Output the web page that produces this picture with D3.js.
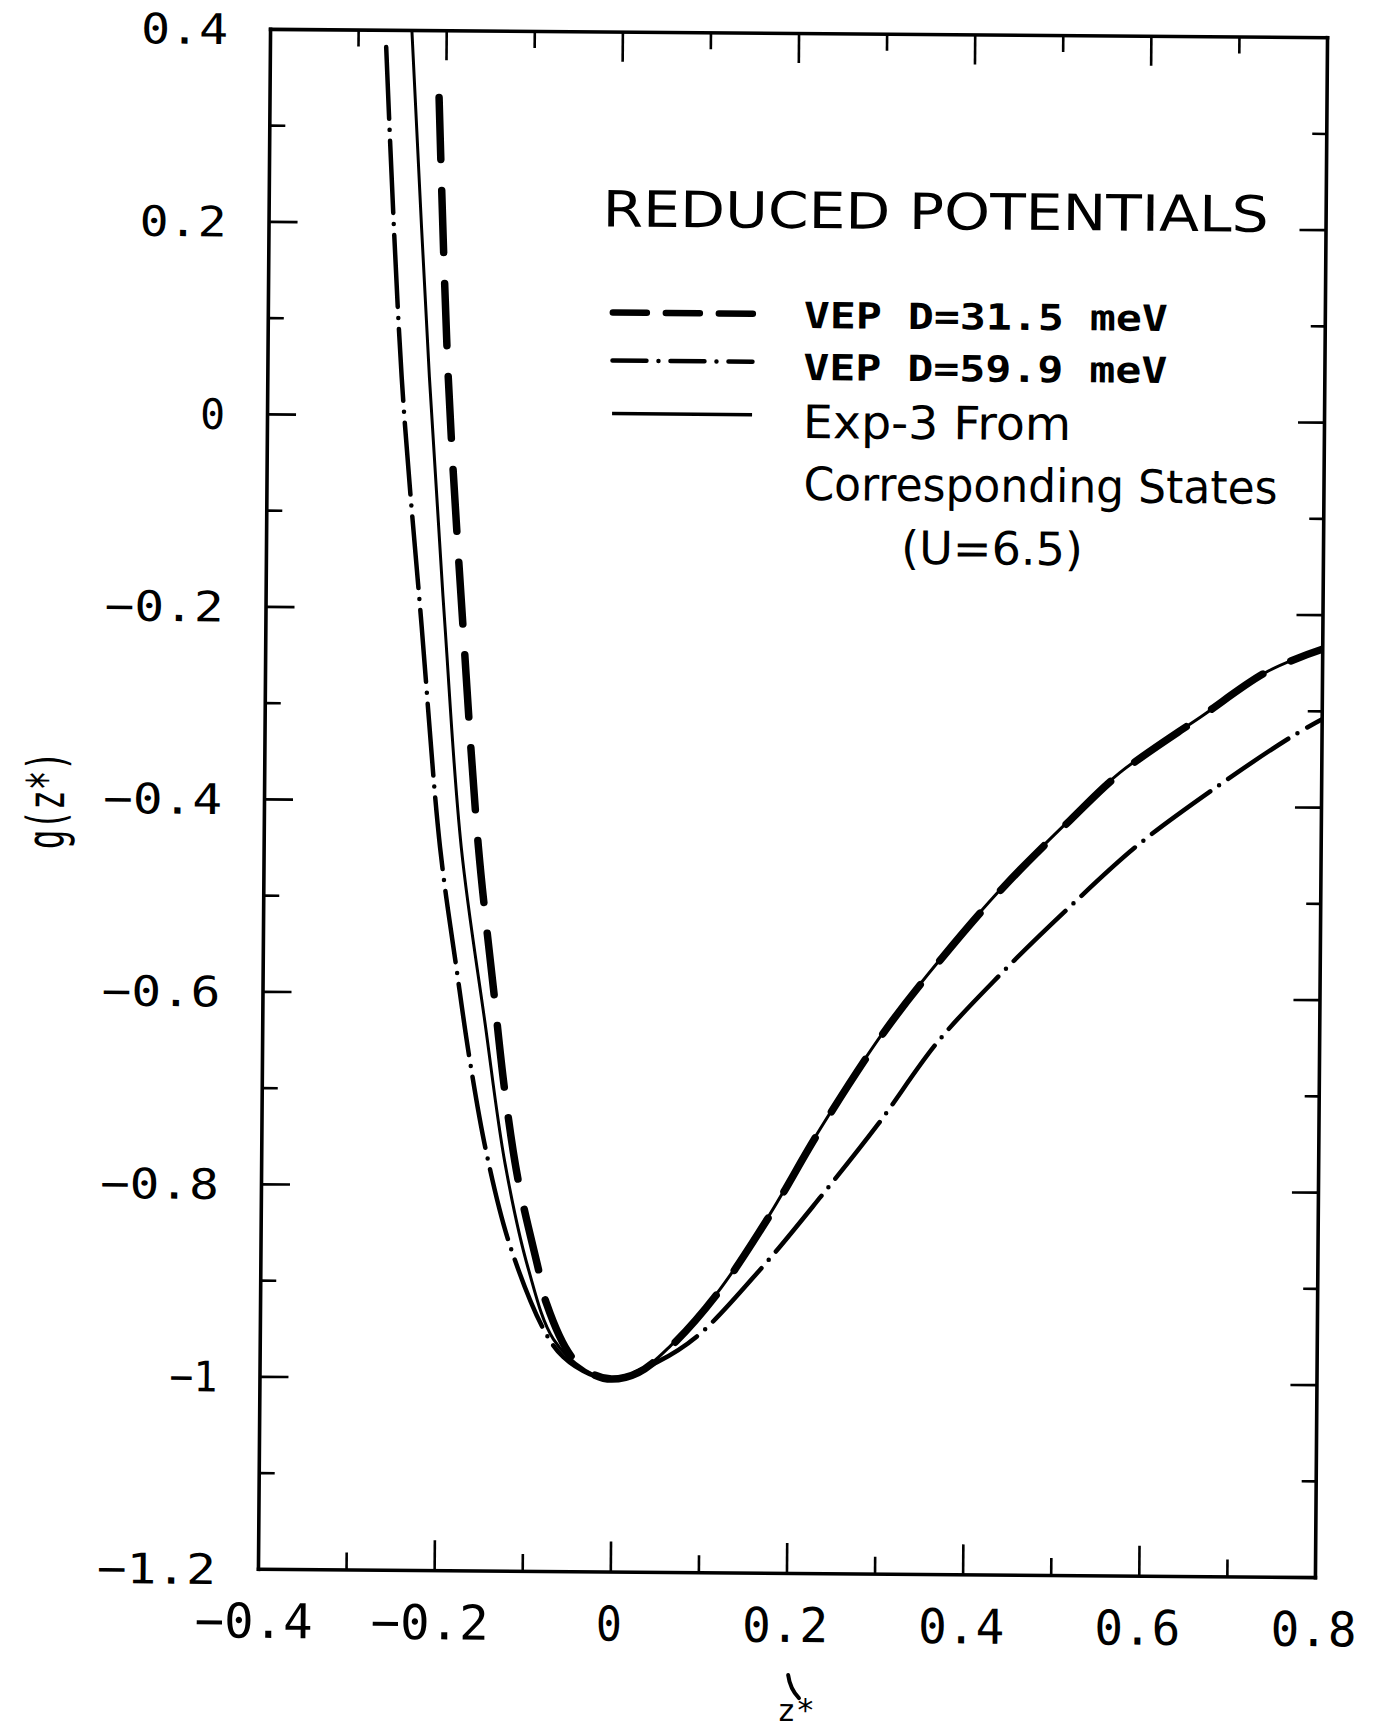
<!DOCTYPE html>
<html><head><meta charset="utf-8">
<script src="https://cdn.jsdelivr.net/npm/d3@7"></script>
<style>
html,body{margin:0;padding:0;background:#fff;}
svg{display:block;}
</style></head><body>
<svg id="chart" width="1373" height="1731"></svg>
<script>
// ---- data ----
const xTickValues = [-0.4, -0.2, 0, 0.2, 0.4, 0.6, 0.8];
const xTickLabels = ["−0.4", "−0.2", "0", "0.2", "0.4", "0.6", "0.8"];
const xMinorTicks = [-0.3, -0.1, 0.1, 0.3, 0.5, 0.7];
const yTickValues = [0.4, 0.2, 0, -0.2, -0.4, -0.6, -0.8, -1, -1.2];
const yTickLabels = ["0.4", "0.2", "0", "−0.2", "−0.4", "−0.6", "−0.8", "−1", "−1.2"];
const yMinorTicks = [0.3, 0.1, -0.1, -0.3, -0.5, -0.7, -0.9, -1.1];

// Exp-3 From Corresponding States (U=6.5) — solid
const exp3Z = [-0.239, -0.216, -0.196, -0.1756, -0.1471, -0.1231, -0.0958, -0.0667, -0.03, 0, 0.03, 0.0663, 0.1194, 0.1763, 0.2332, 0.307, 0.371, 0.441, 0.515, 0.571, 0.663, 0.739, 0.8];
const exp3G = [0.40, 0.0395, -0.220, -0.449, -0.631, -0.777, -0.886, -0.959, -0.991, -1, -0.993, -0.965, -0.909, -0.830, -0.740, -0.635, -0.559, -0.484, -0.415, -0.366, -0.307, -0.259, -0.236];

// VEP D=31.5 meV — heavy dashed
const vep315Z = [-0.2075, -0.1946, -0.1756, -0.1561, -0.1379, -0.1237, -0.1079, -0.0844, -0.0746, -0.0457, -0.02, 0, 0.03, 0.0663, 0.1194, 0.1763, 0.2332, 0.307, 0.371, 0.441, 0.515, 0.571, 0.663, 0.739, 0.8];
const vep315G = [0.330, 0.0395, -0.220, -0.449, -0.5947, -0.704, -0.795, -0.886, -0.9226, -0.9774, -0.9957, -1, -0.993, -0.966, -0.910, -0.831, -0.741, -0.636, -0.560, -0.485, -0.416, -0.367, -0.307, -0.259, -0.236];

// VEP D=59.9 meV — dash-dot
const vep599Z = [-0.268, -0.2475, -0.2225, -0.1997, -0.1797, -0.1638, -0.1439, -0.1167, -0.0762, -0.0553, -0.025, 0, 0.0512, 0.0968, 0.169, 0.2354, 0.300, 0.367, 0.438, 0.513, 0.591, 0.678, 0.766, 0.8];
const vep599G = [0.382, 0.0395, -0.2203, -0.449, -0.5764, -0.6712, -0.7678, -0.8623, -0.9517, -0.9774, -0.995, -1, -0.982, -0.9545, -0.8834, -0.809, -0.733, -0.647, -0.576, -0.508, -0.442, -0.382, -0.327, -0.309];

const legendTitle = "REDUCED POTENTIALS";
const legendLabels = ["VEP D=31.5 meV", "VEP D=59.9 meV", "Exp-3 From"];
const legendExtra = ["Corresponding States", "(U=6.5)"];
const xTitle = "z*";
const yTitle = "g(z*)";

// ---- layout ----
const svg = d3.select("#chart");
svg.append("rect").attr("width", 1373).attr("height", 1731).attr("fill", "#fff");
// the scanned original sits very slightly rotated
const root = svg.append("g").attr("transform", "rotate(0.45,792,803)");

const x = d3.scaleLinear().domain([-0.4, 0.8]).range([264, 1321]);
const y = d3.scaleLinear().domain([-1.2, 0.4]).range([1573, 33]);
const mono = "'DejaVu Sans Mono', 'Liberation Mono', monospace";
const sans = "'DejaVu Sans', 'Liberation Sans', sans-serif";

function styleAxis(g, keepDomain) {
  g.selectAll(".tick line").attr("stroke", "#000").attr("stroke-width", 2.6);
  g.selectAll(".tick text").remove();
  if (keepDomain) g.select(".domain").attr("stroke", "#000").attr("stroke-width", 3.6).attr("stroke-linecap", "square");
  else g.select(".domain").remove();
}
// bottom
root.append("g").attr("transform", `translate(0,${y(-1.2)})`)
  .call(d3.axisBottom(x).tickValues(xTickValues).tickSizeInner(-30).tickSizeOuter(0).tickFormat(""))
  .call(g => styleAxis(g, true));
root.append("g").attr("transform", `translate(0,${y(-1.2)})`)
  .call(d3.axisBottom(x).tickValues(xMinorTicks).tickSizeInner(-17).tickSizeOuter(0).tickFormat(""))
  .call(g => styleAxis(g, false));
// top
root.append("g").attr("transform", `translate(0,${y(0.4)})`)
  .call(d3.axisTop(x).tickValues(xTickValues).tickSizeInner(-30).tickSizeOuter(0).tickFormat(""))
  .call(g => styleAxis(g, true));
root.append("g").attr("transform", `translate(0,${y(0.4)})`)
  .call(d3.axisTop(x).tickValues(xMinorTicks).tickSizeInner(-17).tickSizeOuter(0).tickFormat(""))
  .call(g => styleAxis(g, false));
// left
root.append("g").attr("transform", `translate(${x(-0.4)},0)`)
  .call(d3.axisLeft(y).tickValues(yTickValues).tickSizeInner(-29).tickSizeOuter(0).tickFormat(""))
  .call(g => styleAxis(g, true));
root.append("g").attr("transform", `translate(${x(-0.4)},0)`)
  .call(d3.axisLeft(y).tickValues(yMinorTicks).tickSizeInner(-16).tickSizeOuter(0).tickFormat(""))
  .call(g => styleAxis(g, false));
// right
root.append("g").attr("transform", `translate(${x(0.8)},0)`)
  .call(d3.axisRight(y).tickValues(yTickValues).tickSizeInner(-26).tickSizeOuter(0).tickFormat(""))
  .call(g => styleAxis(g, true));
root.append("g").attr("transform", `translate(${x(0.8)},0)`)
  .call(d3.axisRight(y).tickValues(yMinorTicks).tickSizeInner(-14).tickSizeOuter(0).tickFormat(""))
  .call(g => styleAxis(g, false));

// tick labels
const yLabW = s => s.length === 1 ? 25 : s.length === 2 ? 48 : s.length === 3 ? 87 : 119;
root.append("g").selectAll("text").data(yTickValues).join("text")
  .attr("x", 222)
  .attr("y", d => y(d) + 15.5)
  .attr("text-anchor", "end")
  .attr("font-family", mono).attr("font-size", 42)
  .attr("textLength", (d, i) => yLabW(yTickLabels[i])).attr("lengthAdjust", "spacingAndGlyphs")
  .text((d, i) => yTickLabels[i]);

const xLabW = s => s.length === 1 ? 26 : s.length === 3 ? 86 : 118;
root.append("g").selectAll("text").data(xTickValues).join("text")
  .attr("x", d => x(d) - 1 + (d < 0 ? -3 : 0))
  .attr("y", 1642)
  .attr("text-anchor", "middle")
  .attr("font-family", mono).attr("font-size", 48)
  .attr("textLength", (d, i) => xLabW(xTickLabels[i])).attr("lengthAdjust", "spacingAndGlyphs")
  .text((d, i) => xTickLabels[i]);

// axis titles
root.append("text")
  .attr("transform", "translate(64,806) rotate(-90)")
  .attr("text-anchor", "middle")
  .attr("font-family", mono).attr("font-size", 52)
  .attr("textLength", 98).attr("lengthAdjust", "spacingAndGlyphs")
  .text(yTitle);
root.append("text")
  .attr("x", 803).attr("y", 1721)
  .attr("text-anchor", "middle")
  .attr("font-family", mono).attr("font-size", 31)
  .attr("textLength", 38).attr("lengthAdjust", "spacingAndGlyphs")
  .text(xTitle);
root.append("path")
  .attr("d", "M795,1675 Q797,1689 806,1698")
  .attr("fill", "none").attr("stroke", "#000").attr("stroke-width", 4).attr("stroke-linecap", "round");

// curves
root.append("clipPath").attr("id", "plotClip").append("rect")
  .attr("x", x(-0.4)).attr("y", y(0.4))
  .attr("width", x(0.8) - x(-0.4)).attr("height", y(-1.2) - y(0.4));

const line = d3.line().x(d => x(d[0])).y(d => y(d[1])).curve(d3.curveCatmullRom.alpha(0.5));
const plot = root.append("g").attr("clip-path", "url(#plotClip)");

plot.append("path").datum(d3.zip(exp3Z, exp3G))
  .attr("d", line).attr("fill", "none").attr("stroke", "#000")
  .attr("stroke-width", 3).attr("stroke-linejoin", "round");
plot.append("path").datum(d3.zip(vep599Z, vep599G))
  .attr("d", line).attr("fill", "none").attr("stroke", "#000")
  .attr("stroke-width", 4.5).attr("stroke-linecap", "round")
  .attr("stroke-dasharray", "72,11,0,11");
plot.append("path").datum(d3.zip(vep315Z, vep315G))
  .attr("d", line).attr("fill", "none").attr("stroke", "#000")
  .attr("stroke-width", 7.5).attr("stroke-linecap", "round")
  .attr("stroke-dasharray", "62,31");

// legend
root.append("text")
  .attr("x", 598).attr("y", 228)
  .attr("font-family", sans).attr("font-size", 50)
  .attr("textLength", 666).attr("lengthAdjust", "spacingAndGlyphs")
  .text(legendTitle);

const legRows = [
  {y: 314, dash: "34,19", w: 6.5, cap: "round", text: legendLabels[0], ty: 328, fs: 36, tl: 364, font: mono, weight: "bold"},
  {y: 362, dash: "34,12,0,12", w: 4.5, cap: "round", text: legendLabels[1], ty: 380, fs: 36, tl: 364, font: mono, weight: "bold"},
  {y: 415, dash: null, w: 3.5, cap: "butt", text: legendLabels[2], ty: 438, fs: 46, tl: 268, font: sans, weight: "normal"}
];
legRows.forEach(r => {
  const ln = root.append("line").attr("x1", 609).attr("x2", 749).attr("y1", r.y).attr("y2", r.y)
    .attr("stroke", "#000").attr("stroke-width", r.w).attr("stroke-linecap", r.cap);
  if (r.dash) ln.attr("stroke-dasharray", r.dash);
  root.append("text").attr("x", 800).attr("y", r.ty)
    .attr("font-family", r.font).attr("font-size", r.fs).attr("font-weight", r.weight)
    .attr("textLength", r.tl).attr("lengthAdjust", "spacingAndGlyphs")
    .text(r.text);
});
root.append("text").attr("x", 801).attr("y", 500)
  .attr("font-family", sans).attr("font-size", 46)
  .attr("textLength", 474).attr("lengthAdjust", "spacingAndGlyphs")
  .text(legendExtra[0]);
root.append("text").attr("x", 899).attr("y", 563)
  .attr("font-family", sans).attr("font-size", 46)
  .attr("textLength", 182).attr("lengthAdjust", "spacingAndGlyphs")
  .text(legendExtra[1]);
</script>
</body></html>
